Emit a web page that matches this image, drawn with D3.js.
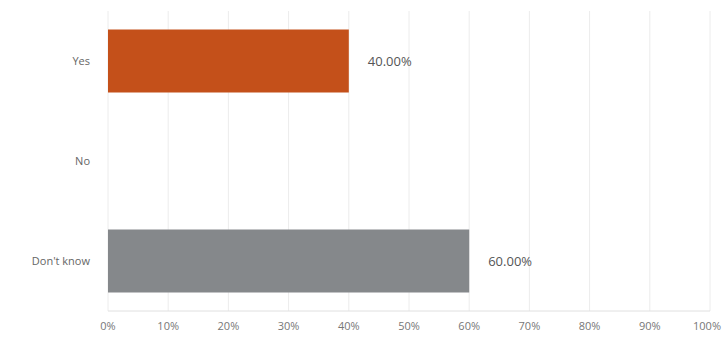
<!DOCTYPE html>
<html><head><meta charset="utf-8">
<script src="https://cdn.jsdelivr.net/npm/d3@7"></script>
<style>body{margin:0;background:#fff}svg{display:block;font-family:"Open Sans",Roboto,sans-serif}</style>
</head><body><svg id="c" width="722" height="338"></svg>
<script>
const categories = ["Yes", "No", "Don't know"];
const values = [40, 0, 60];
const valueLabels = ["40.00%", "", "60.00%"];
const colors = ["#C4501A", "#C4501A", "#85888B"];
const ticks = [0,10,20,30,40,50,60,70,80,90,100];
const tickLabels = ["0%","10%","20%","30%","40%","50%","60%","70%","80%","90%","100%"];

const svg = d3.select("#c");
const x = d3.scaleLinear().domain([0,100]).range([108, 710]);
const y = d3.scaleBand().domain(categories).range([11, 311]).paddingInner(0.37).paddingOuter(0.185);

svg.append("g").selectAll("line").data(ticks).join("line")
  .attr("x1", d=>x(d)).attr("x2", d=>x(d)).attr("y1", 11).attr("y2", 311)
  .attr("stroke", "#ececec").attr("stroke-width", 1);
svg.append("line").attr("x1", x(0)).attr("x2", x(100)).attr("y1", 311).attr("y2", 311).attr("stroke", "#e0e0e0");

svg.append("g").selectAll("rect").data(categories).join("rect")
  .attr("x", x(0)).attr("y", d=>y(d))
  .attr("width", (d,i)=>x(values[i])-x(0)).attr("height", y.bandwidth())
  .attr("fill", (d,i)=>colors[i]);

svg.append("g").selectAll("text").data(categories).join("text")
  .attr("x", (d,i)=>x(values[i])+19).attr("y", d=>y(d)+y.bandwidth()/2)
  .attr("dy", "0.35em").attr("font-size", 13).attr("fill", "#555")
  .text((d,i)=>valueLabels[i]);

svg.append("g").selectAll("text").data(categories).join("text")
  .attr("x", 90).attr("y", d=>y(d)+y.bandwidth()/2)
  .attr("dy", "0.35em").attr("text-anchor", "end").attr("font-size", 11).attr("fill", "#666")
  .text(d=>d);

svg.append("g").selectAll("text").data(ticks).join("text")
  .attr("x", d=>d===100 ? 721 : x(d)).attr("y", 326).attr("dy", "0.35em")
  .attr("text-anchor", d=>d===100 ? "end" : "middle").attr("font-size", 11).attr("fill", "#777")
  .text((d,i)=>tickLabels[i]);
</script></body></html>
